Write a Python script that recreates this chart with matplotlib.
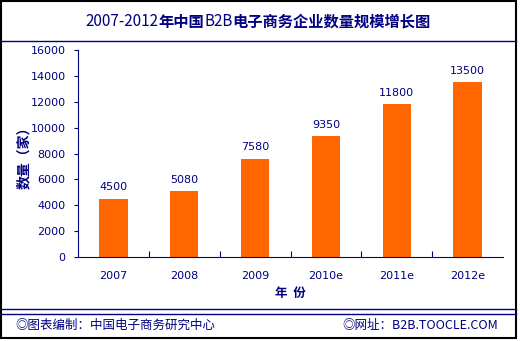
import matplotlib
matplotlib.use("Agg")
import matplotlib.pyplot as plt
from matplotlib.lines import Line2D
from matplotlib.patches import Rectangle

plt.rcParams['font.family'] = ['Noto Sans CJK SC', 'DejaVu Sans']

# data
years = ["2007", "2008", "2009", "2010e", "2011e", "2012e"]
counts = [4500, 5080, 7580, 9350, 11800, 13500]
yticks = [0, 2000, 4000, 6000, 8000, 10000, 12000, 14000, 16000]
title_parts = [("2007-2012", "normal"), ("年中国", "bold"), ("B2B", "normal"),
               ("电子商务企业数量规模增长图", "bold")]

navy = "#000080"
orange = "#FF6600"
W, H = 520, 341

fig = plt.figure(figsize=(W / 100, H / 100), dpi=100)
fig.patch.set_facecolor("white")

# outer frame, title rule and footer rules
fig.add_artist(Rectangle((1 / W, 3 / H), 515 / W, 337 / H, transform=fig.transFigure,
                         fill=False, edgecolor="black", linewidth=1.5))
for yy in [41, 309, 314]:
    fig.add_artist(Line2D([1 / W, 516 / W], [1 - yy / H] * 2, transform=fig.transFigure, color=navy, lw=1))

# title with mixed weights, centred as one line
renderer = fig.canvas.get_renderer()
texts = []
for s, wt in title_parts:
    t = fig.text(0, 1 - 22 / H, s, ha="left", va="center", fontsize=11, fontweight=wt, color=navy)
    texts.append(t)
widths = [t.get_window_extent(renderer).width for t in texts]
xpos = 258 - sum(widths) / 2
for t, w in zip(texts, widths):
    t.set_x(xpos / W)
    xpos += w

ax = fig.add_axes([78 / W, 1 - 257 / H, 425 / W, 207 / H])
x = list(range(len(years)))
bars = ax.bar(x, counts, width=0.4, color=orange, zorder=2)

for b, v in zip(bars, counts):
    ax.text(b.get_x() + b.get_width() / 2, v + 500, str(v), ha="center", va="bottom",
            fontsize=8, color=navy, family="DejaVu Sans")

ax.set_xlim(-0.5, len(years) - 0.5)
ax.set_ylim(0, 16000)
ax.set_yticks(yticks)
ax.set_yticklabels([str(t) for t in yticks], family="DejaVu Sans")
ax.set_xticks([i + 0.5 for i in range(len(years) - 1)])
ax.set_xticklabels([])
ax.set_xticks(x, minor=True)
ax.set_xticklabels(years, minor=True, family="DejaVu Sans")
ax.tick_params(axis="x", which="major", direction="in", length=4, color=navy)
ax.tick_params(axis="x", which="minor", length=0, pad=10, labelsize=8, labelcolor=navy)
ax.tick_params(axis="y", length=3, color=navy, labelsize=8, labelcolor=navy, pad=6)

for s in ["top", "right"]:
    ax.spines[s].set_visible(False)
for s in ["left", "bottom"]:
    ax.spines[s].set_color(navy)

fig.text(290 / W, 1 - 293 / H, "年  份", ha="center", va="center",
         fontsize=9, fontweight="bold", color=navy)
fig.text(24 / W, 1 - 154 / H, "数量（家）", ha="center", va="center", rotation=90,
         fontsize=10, fontweight="bold", color=navy)

fig.text(15 / W, 1 - 325 / H, "◎图表编制：中国电子商务研究中心", ha="left", va="center",
         fontsize=9, color=navy)
fig.text(498 / W, 1 - 325 / H, "◎网址：B2B.TOOCLE.COM", ha="right", va="center",
         fontsize=9, color=navy)

fig.savefig("out.png", dpi=100)
